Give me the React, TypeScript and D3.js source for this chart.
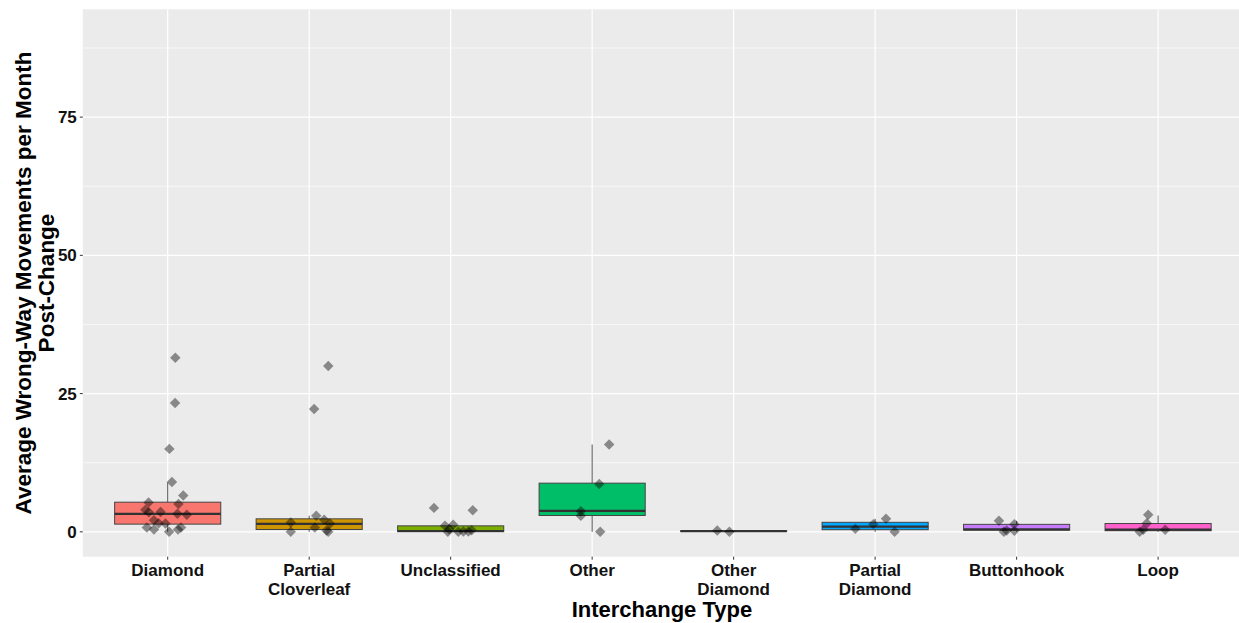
import React from "react";
import * as d3 from "d3";

const categories = ["Diamond", "Partial Cloverleaf", "Unclassified", "Other", "Other Diamond", "Partial Diamond", "Buttonhook", "Loop"];
const categoryLabels = [["Diamond"], ["Partial", "Cloverleaf"], ["Unclassified"], ["Other"], ["Other", "Diamond"], ["Partial", "Diamond"], ["Buttonhook"], ["Loop"]];
const boxColors = ["#F8766D", "#CD9600", "#7CAE00", "#00BE67", "#00BFC4", "#00A9FF", "#C77CFF", "#FF61CC"];

const boxLower = [0, 0, 0, 0, 0, 0, 0, 0];
const boxQ1 = [1.39, 0.42, 0.02, 2.95, 0.06, 0.38, 0.3, 0.2];
const boxMedian = [3.25, 1.44, 0.15, 3.8, 0.11, 0.95, 0.45, 0.4];
const boxQ3 = [5.36, 2.35, 1.08, 8.8, 0.17, 1.72, 1.35, 1.5];
const boxUpper = [8.9, 2.9, 1.26, 15.8, 0.23, 2.35, 1.99, 2.95];

// jittered observations: category index, horizontal jitter (in category units), value
const pointCategory = [
  0, 0, 0, 0, 0, 0, 0, 0, 0, 0, 0, 0, 0, 0, 0, 0, 0, 0, 0, 0,
  1, 1, 1, 1, 1, 1, 1, 1, 1, 1,
  2, 2, 2, 2, 2, 2, 2, 2, 2, 2,
  3, 3, 3, 3, 3,
  4, 4,
  5, 5, 5, 5,
  6, 6, 6, 6, 6,
  7, 7, 7, 7, 7,
];
const pointJitter = [
  0.054, 0.052, 0.012, 0.03, 0.11, -0.135, 0.076, -0.158, -0.133, -0.05, 0.069, 0.135, -0.097, -0.064, -0.016, -0.147, -0.097, 0.01, 0.073, 0.094,
  0.135, 0.035, -0.13, -0.13, 0.05, 0.106, 0.147, 0.04, 0.123, 0.135,
  -0.118, 0.156, -0.04, 0.018, -0.02, 0.054, 0.09, 0.125, 0.148, -0.01,
  0.12, 0.05, -0.08, -0.08, 0.057,
  -0.116, -0.03,
  -0.14, -0.013, 0.077, 0.138,
  -0.125, -0.09, -0.07, -0.016, -0.016,
  -0.07, -0.08, -0.105, -0.13, 0.05,
];
const pointValue = [
  31.5, 23.3, 15.0, 9.0, 6.55, 5.3, 5.05, 3.97, 3.55, 3.6, 3.25, 3.1, 2.1, 1.57, 1.5, 0.78, 0.42, 0, 0.42, 0.78,
  30.0, 22.2, 1.68, 0, 2.9, 2.17, 1.5, 0.78, 0.24, 0,
  4.33, 3.9, 1.08, 1.26, 0, 0, 0.05, 0.05, 0.3, 0.48,
  15.8, 8.66, 3.73, 2.9, 0,
  0.23, 0,
  0.54, 1.39, 2.35, 0,
  1.99, 0, 0.24, 1.39, 0.18,
  3.07, 1.57, 0.36, 0, 0.36,
];

const yMajorTicks = [0, 25, 50, 75];
const yMinorTicks = [12.5, 37.5, 62.5, 87.5];
const yDomain = [-4.5, 94.5];

const yTitleLines = ["Average Wrong-Way Movements per Month", "Post-Change"];
const xTitle = "Interchange Type";

const W = 1239;
const H = 623;
const panel = { left: 82.8, right: 1243, top: 9.3, bottom: 556.7 };
const FONT = "'Liberation Sans', Arial, sans-serif";

export default function App() {
  const x = d3
    .scaleBand<string>()
    .domain(categories)
    .range([panel.left, panel.right])
    .paddingInner(0)
    .paddingOuter(0.1);
  const step = x.step();
  const cx = (i: number) => (x(categories[i]) as number) + x.bandwidth() / 2;
  const y = d3.scaleLinear().domain(yDomain).range([panel.bottom, panel.top]);
  const boxW = step * 0.75;

  const diamond = d3.symbol().type(d3.symbolDiamond2).size(70)();

  return (
    <svg width={W} height={H} style={{ position: "absolute", left: 0, top: 0, background: "#fff" }}>
      <defs>
        <clipPath id="panelClip">
          <rect x={panel.left} y={panel.top} width={W - panel.left} height={panel.bottom - panel.top} />
        </clipPath>
      </defs>
      <rect x={panel.left} y={panel.top} width={W - panel.left} height={panel.bottom - panel.top} fill="#EBEBEB" />
      <g clipPath="url(#panelClip)">
        {yMinorTicks.map((t) => (
          <line key={"mn" + t} x1={panel.left} x2={W} y1={y(t)} y2={y(t)} stroke="#fff" strokeWidth={0.6} />
        ))}
        {yMajorTicks.map((t) => (
          <line key={"mj" + t} x1={panel.left} x2={W} y1={y(t)} y2={y(t)} stroke="#fff" strokeWidth={1.2} />
        ))}
        {categories.map((c, i) => (
          <line key={"vg" + c} x1={cx(i)} x2={cx(i)} y1={panel.top} y2={panel.bottom} stroke="#fff" strokeWidth={1.2} />
        ))}
        {categories.map((c, i) => (
          <g key={"box" + c}>
            <line x1={cx(i)} x2={cx(i)} y1={y(boxQ3[i])} y2={y(boxUpper[i])} stroke="#555" strokeWidth={1} />
            <line x1={cx(i)} x2={cx(i)} y1={y(boxQ1[i])} y2={y(boxLower[i])} stroke="#555" strokeWidth={1} />
            <rect
              x={cx(i) - boxW / 2}
              y={y(boxQ3[i])}
              width={boxW}
              height={Math.max(0, y(boxQ1[i]) - y(boxQ3[i]))}
              fill={boxColors[i]}
              stroke="#444"
              strokeWidth={1}
            />
            <line
              x1={cx(i) - boxW / 2}
              x2={cx(i) + boxW / 2}
              y1={y(boxMedian[i])}
              y2={y(boxMedian[i])}
              stroke="#333"
              strokeWidth={2.2}
            />
          </g>
        ))}
        {pointValue.map((v, k) => (
          <path
            key={"pt" + k}
            d={diamond as string}
            transform={`translate(${cx(pointCategory[k]) + pointJitter[k] * step},${y(v)})`}
            fill="#000"
            fillOpacity={0.42}
          />
        ))}
      </g>
      {/* y axis */}
      {yMajorTicks.map((t) => (
        <g key={"yt" + t}>
          <line x1={panel.left - 3} x2={panel.left} y1={y(t)} y2={y(t)} stroke="#333" strokeWidth={1} />
          <text
            x={panel.left - 6}
            y={y(t)}
            dy="0.36em"
            textAnchor="end"
            fontFamily={FONT}
            fontWeight="bold"
            fontSize={17}
            fill="#111"
          >
            {t}
          </text>
        </g>
      ))}
      {/* x axis */}
      {categories.map((c, i) => (
        <g key={"xt" + c}>
          <line x1={cx(i)} x2={cx(i)} y1={panel.bottom} y2={panel.bottom + 3} stroke="#333" strokeWidth={1} />
          {categoryLabels[i].map((ln, j) => (
            <text
              key={j}
              x={cx(i)}
              y={576 + j * 18.5}
              textAnchor="middle"
              fontFamily={FONT}
              fontWeight="bold"
              fontSize={17}
              fill="#111"
            >
              {ln}
            </text>
          ))}
        </g>
      ))}
      <text
        x={(panel.left + W) / 2 + 1}
        y={617}
        textAnchor="middle"
        fontFamily={FONT}
        fontWeight="bold"
        fontSize={22}
        fill="#000"
      >
        {xTitle}
      </text>
      {yTitleLines.map((ln, j) => (
        <text
          key={"ytl" + j}
          transform={`translate(${31 + j * 23},${(panel.top + panel.bottom) / 2}) rotate(-90)`}
          textAnchor="middle"
          fontFamily={FONT}
          fontWeight="bold"
          fontSize={22.5}
          fill="#000"
        >
          {ln}
        </text>
      ))}
    </svg>
  );
}
